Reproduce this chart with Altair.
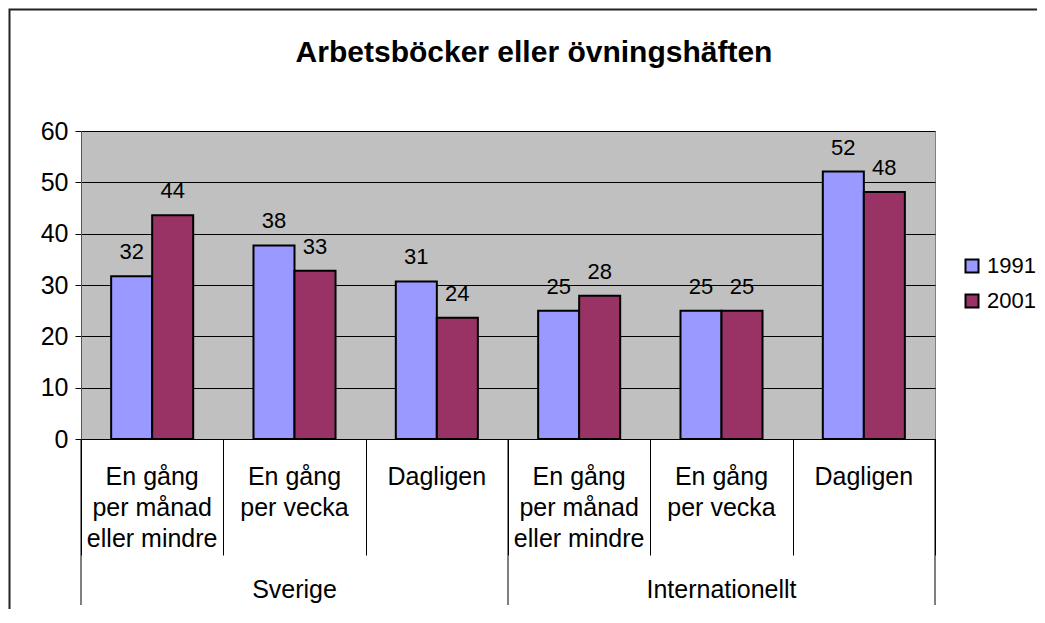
import altair as alt
import pandas as pd

# ---- data ----
keys = ["S1", "S2", "S3", "I1", "I2", "I3"]
cat_labels = [
    "En gång\nper månad\neller mindre",
    "En gång\nper vecka",
    "Dagligen",
    "En gång\nper månad\neller mindre",
    "En gång\nper vecka",
    "Dagligen",
]
groups = ["Sverige", "Sverige", "Sverige", "Internationellt", "Internationellt", "Internationellt"]
years = ["1991", "2001"]
v1991 = [31.7, 37.7, 30.7, 25.0, 25.0, 52.1]
v2001 = [43.6, 32.8, 23.6, 27.9, 25.0, 48.1]
group_names = ["Sverige", "Internationellt"]
group_mid_keys = ["S2", "I2"]
group_start_keys = ["S1", "I1"]
group_end_keys = ["I3"]
colors = ["#9999FF", "#993366"]

W, H = 854, 308
FONT = "Liberation Sans"

rows = []
for k, a, b in zip(keys, v1991, v2001):
    rows.append({"key": k, "year": years[0], "value": a})
    rows.append({"key": k, "year": years[1], "value": b})
bars_df = pd.DataFrame(rows)
cats_df = pd.DataFrame({"key": keys, "label": cat_labels, "group": groups})
grp_df = pd.DataFrame({"key": group_mid_keys, "name": group_names})
start_df = pd.DataFrame({"key": group_start_keys})
end_df = pd.DataFrame({"key": group_end_keys})

xscale = alt.Scale(domain=keys, paddingInner=0, paddingOuter=0)
xoff_scale = alt.Scale(domain=years, paddingInner=0, paddingOuter=0.735)

base = alt.Chart(bars_df)

bars = base.mark_bar(stroke="black", strokeWidth=2).encode(
    x=alt.X("key:N", scale=xscale, sort=keys,
            axis=alt.Axis(labels=False, title=None, tickBand="extent", tickSize=116,
                          tickColor="black", domainColor="black", tickWidth=1,
                          domainWidth=1, grid=False)),
    xOffset=alt.XOffset("year:N", scale=xoff_scale),
    y=alt.Y("value:Q", scale=alt.Scale(domain=[0, 60], nice=False),
            axis=alt.Axis(values=[0, 10, 20, 30, 40, 50, 60], title=None,
                          grid=True, gridColor="black", gridWidth=1,
                          tickColor="black", tickSize=6, domainColor="#555555",
                          labelFontSize=25, labelColor="black", labelPadding=7,
                          labelFont=FONT)),
    color=alt.Color("year:N", scale=alt.Scale(domain=years, range=colors),
                    legend=alt.Legend(title=None, orient="none", legendX=880, legendY=124,
                                      symbolType="square", symbolSize=169,
                                      symbolStrokeColor="black", symbolStrokeWidth=2,
                                      labelFontSize=22, labelFont=FONT, labelColor="black",
                                      labelOffset=4, rowPadding=13, padding=0)),
)

value_labels = base.mark_text(fontSize=22, font=FONT, color="black",
                              baseline="middle", dy=-24).encode(
    x=alt.X("key:N", scale=xscale, sort=keys),
    xOffset=alt.XOffset("year:N", scale=xoff_scale),
    y=alt.Y("value:Q"),
    text=alt.Text("value:Q", format=".0f"),
)

cat_text = alt.Chart(cats_df).mark_text(
    fontSize=25, font=FONT, color="black", baseline="top", align="center",
    lineBreak="\n", lineHeight=31,
).encode(
    x=alt.X("key:N", scale=xscale, sort=keys),
    y=alt.value(H + 26),
    text="label:N",
)

grp_text = alt.Chart(grp_df).mark_text(
    fontSize=25, font=FONT, color="black", baseline="middle", align="center",
).encode(
    x=alt.X("key:N", scale=xscale, sort=keys),
    y=alt.value(H + 151),
    text="name:N",
)

start_rules = alt.Chart(start_df).mark_rule(color="black", strokeWidth=1).encode(
    x=alt.X("key:N", scale=xscale, sort=keys, bandPosition=0),
    y=alt.value(H),
    y2=alt.value(H + 166),
)
end_rules = alt.Chart(end_df).mark_rule(color="black", strokeWidth=1).encode(
    x=alt.X("key:N", scale=xscale, sort=keys, bandPosition=1),
    y=alt.value(H),
    y2=alt.value(H + 166),
)

frame = alt.Chart(pd.DataFrame({"f": [0]})).mark_rect(
    fill=None, stroke="#222222", strokeWidth=2, clip=False,
).encode(
    x=alt.value(-71.5), x2=alt.value(W + 200),
    y=alt.value(-121.5), y2=alt.value(H + 300),
)

chart = alt.layer(
    frame, bars, value_labels, cat_text, grp_text, start_rules, end_rules
).properties(
    width=W, height=H,
    title=alt.TitleParams("Arbetsböcker eller övningshäften", fontSize=30,
                          fontWeight="bold", font=FONT, color="black",
                          anchor="middle", dx=26, offset=-59),
    autosize=alt.AutoSizeParams(type="none"),
    padding={"left": 73, "top": 123, "right": 102, "bottom": 170},
).configure(
    font=FONT, background="white",
).configure_view(
    fill="#C0C0C0", stroke="#808080", strokeWidth=1,
)

chart.save("out.html", embed_options={"renderer": "svg", "actions": False})
